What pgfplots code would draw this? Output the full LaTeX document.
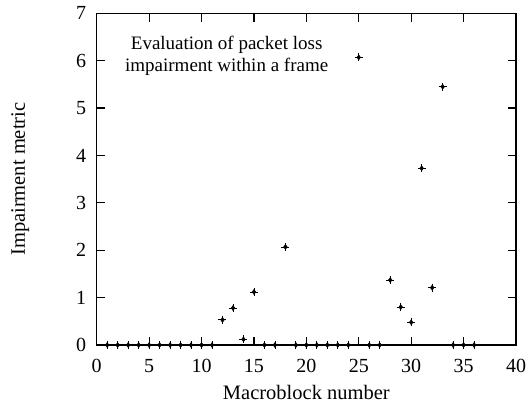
\documentclass[border=0pt]{standalone}
\usepackage{fontspec}
\setmainfont{Liberation Serif}
\usepackage{pgfplots}
\usepackage{pgfplotstable}
\pgfplotsset{compat=1.18}

% macroblock number vs impairment
\pgfplotstableread{
mb  val
1   0
2   0
3   0
4   0
5   0
6   0
7   0
8   0
9   0
10  0
11  0
12  0.53
13  0.78
14  0.12
15  1.12
16  0
17  0
18  2.07
19  0
20  0
21  0
22  0
23  0
24  0
25  6.07
26  0
27  0
28  1.37
29  0.80
30  0.48
31  3.73
32  1.21
33  5.45
34  0
35  0
36  0
}\impdata

\begin{document}
\begin{tikzpicture}
\useasboundingbox (-96.7pt,-60pt) rectangle (429.3pt,345pt);
\begin{axis}[
    scale only axis,
    width=419.3pt, height=331.7pt,
    xmin=0, xmax=40, ymin=0, ymax=7,
    xtick={0,5,...,40}, ytick={0,1,...,7},
    tick align=inside,
    major tick length=8.3pt,
    axis line style={line width=1.2pt},
    every tick/.style={line width=1.2pt, black},
    tick label style={font=\fontsize{20}{22}\selectfont},
    xticklabel style={yshift=-11pt},
    yticklabel style={xshift=-7pt},
    /pgf/number format/assume math mode=true,
    xlabel={Macroblock number},
    ylabel={Impairment metric},
    label style={font=\fontsize{20.5}{22}\selectfont},
    xlabel style={yshift=-5pt},
    ylabel style={yshift=40pt},
    clip=false,
]
\addplot[only marks, mark=diamond*, mark size=2.5pt, black] table[x=mb, y=val] {\impdata};
\addplot[only marks, mark=+, mark size=4pt, line width=0.8pt, black] table[x=mb, y=val] {\impdata};
\node[align=center, font=\fontsize{19}{22}\selectfont] at (axis cs:12.4,6.1)
    {Evaluation of packet loss\\impairment within a frame};
\end{axis}
\end{tikzpicture}
\end{document}
